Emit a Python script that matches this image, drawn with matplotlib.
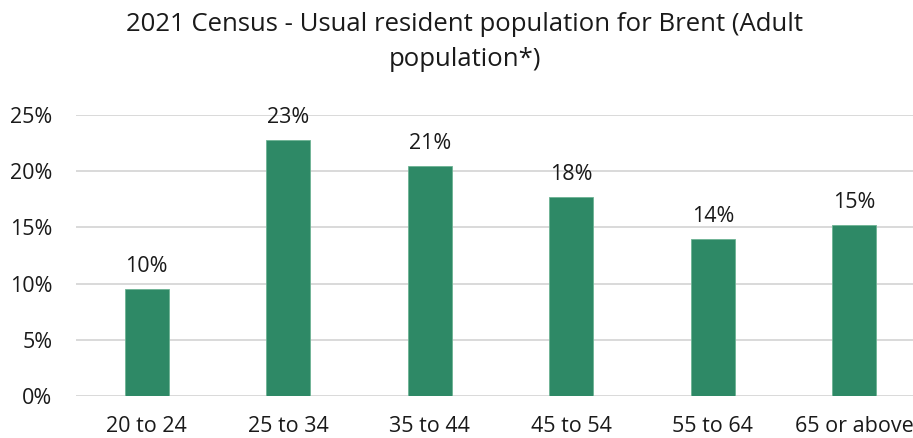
import matplotlib.pyplot as plt
from matplotlib.ticker import FuncFormatter, MultipleLocator

# Data
age_groups = ['20 to 24', '25 to 34', '35 to 44', '45 to 54', '55 to 64', '65 or above']
share_pct = [9.5, 22.8, 20.5, 17.7, 14.0, 15.2]
bar_labels = ['10%', '23%', '21%', '18%', '14%', '15%']


def main():
    plt.rcParams['font.family'] = ['Open Sans', 'DejaVu Sans']

    fig = plt.figure(figsize=(9.13, 4.38), dpi=100)
    ax = fig.add_axes([76 / 913, 1 - 396 / 438, (913 - 76) / 913, (396 - 115) / 438])

    x = range(len(age_groups))
    bars = ax.bar(x, share_pct, width=0.31, color='#2E8966',
                  edgecolor='#6DB394', linewidth=0.6, zorder=3)

    for rect, lab in zip(bars, bar_labels):
        ax.annotate(lab, (rect.get_x() + rect.get_width() / 2, rect.get_height()),
                    xytext=(0, 8.5), textcoords='offset points',
                    ha='center', va='bottom', fontsize=15.5, color='#1a1a1a')

    ax.set_xlim(-0.5, 5.415)
    ax.set_ylim(0, 25)
    ax.yaxis.set_major_locator(MultipleLocator(5))
    ax.yaxis.set_major_formatter(FuncFormatter(lambda v, p: f'{v:.0f}%'))
    ax.set_xticks(list(x))
    ax.set_xticklabels(age_groups)

    ax.grid(axis='y', color='#D9D9D9', linewidth=1.4, zorder=0)
    for s in ax.spines.values():
        s.set_visible(False)
    ax.tick_params(axis='both', length=0, labelsize=15.5, colors='#1a1a1a')
    ax.tick_params(axis='y', pad=17)
    ax.tick_params(axis='x', pad=14.5)

    fig.text(465 / 913, 1 - 42 / 438,
             '2021 Census - Usual resident population for Brent (Adult\npopulation*)',
             ha='center', va='center', fontsize=18.5, color='#1a1a1a', linespacing=1.55)

    fig.savefig('out.png', dpi=100)


if __name__ == '__main__':
    main()
